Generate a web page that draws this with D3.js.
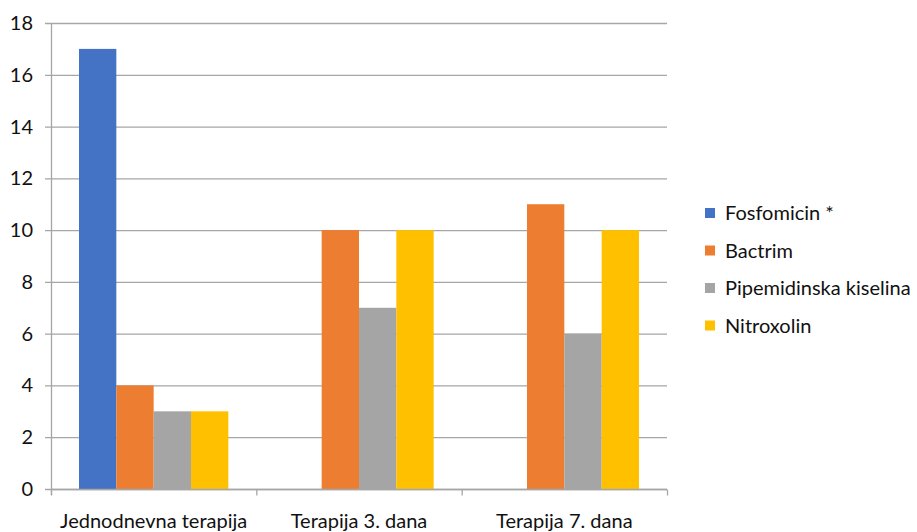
<!DOCTYPE html>
<html>
<head>
<meta charset="utf-8">
<script src="https://cdn.jsdelivr.net/npm/d3@7"></script>
<style>
  body { margin: 0; background: #fff; }
  text { font-family: Lato, "Noto Sans", sans-serif; fill: #111; }
</style>
</head>
<body>
<svg id="chart" width="917" height="532"></svg>
<script>
// Groups (therapy duration) and antibiotics
const categories = ["Jednodnevna terapija", "Terapija 3. dana", "Terapija 7. dana"];
const seriesNames = ["Fosfomicin *", "Bactrim", "Pipemidinska kiselina", "Nitroxolin"];
const seriesColors = ["#4472C4", "#ED7D31", "#A5A5A5", "#FFC000"];
const fosfomicin = [17, 0, 0];
const bactrim = [4, 10, 11];
const pipemidinska = [3, 7, 6];
const nitroxolin = [3, 10, 10];
const yTicks = [0, 2, 4, 6, 8, 10, 12, 14, 16, 18];

const seriesValues = [fosfomicin, bactrim, pipemidinska, nitroxolin];

const svg = d3.select("#chart");
const margin = { left: 51, right: 250, top: 23, bottom: 43 };
const W = 917, H = 532;
const plotLeft = margin.left, plotRight = W - margin.right;
const plotTop = margin.top, plotBottom = H - margin.bottom;
const fontSize = 20;

const x0 = d3.scaleBand().domain(categories).range([plotLeft, plotRight]).padding(0);
const x1 = d3.scaleBand().domain(seriesNames).range([0, x0.bandwidth()])
  .paddingInner(0).paddingOuter(0.75);
const y = d3.scaleLinear().domain([0, 18]).range([plotBottom, plotTop]);

// horizontal gridlines with short left ticks
svg.append("g").selectAll("line").data(yTicks).join("line")
  .attr("x1", plotLeft - 6).attr("x2", plotRight)
  .attr("y1", d => y(d) + 0.5).attr("y2", d => y(d) + 0.5)
  .attr("stroke", "#a6a6a6").attr("stroke-width", 1.3);

// y tick labels
svg.append("g").selectAll("text").data(yTicks).join("text")
  .attr("x", 33).attr("y", d => y(d))
  .attr("dy", "0.35em").attr("text-anchor", "end")
  .attr("font-size", fontSize).text(d => d);

// bars
const groups = svg.append("g").selectAll("g").data(categories).join("g")
  .attr("transform", c => `translate(${x0(c)},0)`);
groups.selectAll("rect")
  .data((c, ci) => seriesNames.map((s, si) => ({ s, si, v: seriesValues[si][ci] })))
  .join("rect")
  .attr("x", d => x1(d.s)).attr("width", x1.bandwidth())
  .attr("y", d => y(d.v)).attr("height", d => y(0) - y(d.v))
  .attr("fill", d => seriesColors[d.si]);

// left axis line
svg.append("line")
  .attr("x1", plotLeft + 0.5).attr("x2", plotLeft + 0.5)
  .attr("y1", plotTop).attr("y2", plotBottom + 6)
  .attr("stroke", "#a6a6a6").attr("stroke-width", 1.3);

// bottom axis with category separators
const xAxis = svg.append("g").attr("transform", `translate(0,${plotBottom + 0.5})`);
xAxis.append("line").attr("x1", plotLeft).attr("x2", plotRight)
  .attr("stroke", "#a6a6a6").attr("stroke-width", 1.3);
const seps = categories.map(c => x0(c)).concat([plotRight]);
xAxis.selectAll(".sep").data(seps).join("line")
  .attr("x1", d => d + 0.5).attr("x2", d => d + 0.5)
  .attr("y1", 0).attr("y2", 6)
  .attr("stroke", "#a6a6a6").attr("stroke-width", 1.3);
xAxis.selectAll("text").data(categories).join("text")
  .attr("x", c => x0(c) + x0.bandwidth() / 2).attr("y", 38)
  .attr("text-anchor", "middle").attr("font-size", fontSize).text(c => c);

// legend
const legend = svg.append("g").attr("transform", "translate(705,213)");
const items = legend.selectAll("g").data(seriesNames).join("g")
  .attr("transform", (d, i) => `translate(0,${i * 37.5})`);
items.append("rect").attr("x", 0).attr("y", -5).attr("width", 10).attr("height", 10)
  .attr("fill", (d, i) => seriesColors[i]);
items.append("text").attr("x", 20).attr("y", 0).attr("dy", "0.35em")
  .attr("font-size", fontSize).text(d => d);
</script>
</body>
</html>
